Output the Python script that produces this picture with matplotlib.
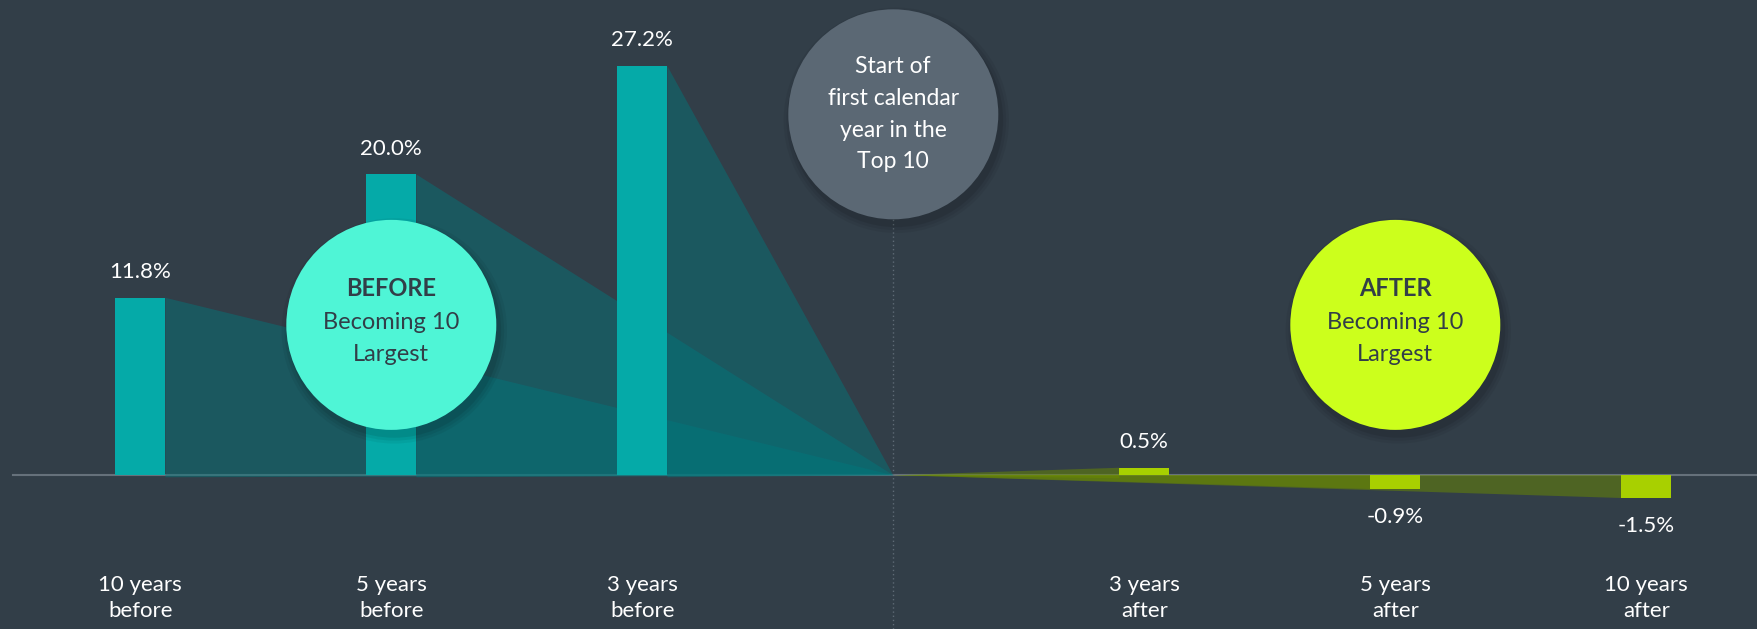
import numpy as np
import matplotlib
matplotlib.use("Agg")
import matplotlib.pyplot as plt
from matplotlib.patches import Ellipse, Polygon

# ---- data ----
before_labels = ["10 years\nbefore", "5 years\nbefore", "3 years\nbefore"]
before_values = [11.8, 20.0, 27.2]
after_labels = ["3 years\nafter", "5 years\nafter", "10 years\nafter"]
after_values = [0.5, -0.9, -1.5]
center_label = "Start of\nfirst calendar\nyear in the\nTop 10"
before_circle = ["BEFORE", "Becoming 10\nLargest"]
after_circle = ["AFTER", "Becoming 10\nLargest"]

BG = "#323e48"
TEAL = "#05aaa8"
FAN_TEAL = "#00787d"
LIME = "#a8d000"
FAN_LIME = "#6a8a00"
GRAY = "#5b6874"
FONT = ["Lato", "DejaVu Sans"]

W, H = 1758, 629
fig = plt.figure(figsize=(W / 100, H / 100), dpi=100)
fig.patch.set_facecolor(BG)
ax = fig.add_axes([0, 0, 1, 1])
ax.set_facecolor(BG)
ax.axis("off")

n_b = len(before_values)
xb = np.arange(n_b)
x0 = n_b  # center slot
xa = np.arange(n_b + 1, n_b + 1 + len(after_values))

ax.set_xlim(-0.559, 6.445)
ax.set_ylim(-10.22, 31.60)

# pixel helpers
px_x = (ax.transData.transform((1, 0))[0] - ax.transData.transform((0, 0))[0])
px_y = (ax.transData.transform((0, 1))[1] - ax.transData.transform((0, 0))[1])

bw = 0.2

# baseline
ax.axhline(0, xmin=13 / W, xmax=1, color="#66717b", lw=1.5, zorder=1)

# fans (before)
for x, v in zip(xb, before_values):
    poly = Polygon([(x + bw / 2, v), (x0, 0), (x + bw / 2, -2 / px_y)],
                   closed=True, facecolor=FAN_TEAL, alpha=0.45, lw=0, zorder=2)
    ax.add_patch(poly)
# fans (after)
for x, v in zip(xa, after_values):
    if v >= 0:
        pts = [(x0, 0), (x - bw / 2, v), (x - bw / 2, -3 / px_y)]
    else:
        pts = [(x0, 0), (x - bw / 2, 0), (x - bw / 2, v)]
    ax.add_patch(Polygon(pts, closed=True, facecolor=FAN_LIME, alpha=0.5, lw=0, zorder=2))

# bars
ax.bar(xb, before_values, width=bw, color=TEAL, zorder=3)
ax.bar(xa, after_values, width=bw, color=LIME, zorder=3)

# vertical dotted line
ax.plot([x0, x0], [-10.22, 24.0 - 105 / px_y], color="#5e6a75", lw=1,
        linestyle=(0, (1, 2)), zorder=1)

# value labels
for x, v in zip(list(xb) + list(xa), before_values + after_values):
    off = 18.5 if v >= 0 else -20
    ax.annotate(f"{v:.1f}%", (x, v), xytext=(0, off), textcoords="offset points",
                ha="center", va="center", color="white", fontsize=16, family=FONT,
                zorder=6)

# category labels
for x, lab in zip(list(xb) + list(xa), before_labels + after_labels):
    ax.text(x, (475.3 - 598) / px_y, lab, ha="center", va="center",
            color="white", fontsize=16, family=FONT, linespacing=1.35, zorder=6)


def circle(cx, cy, r_px, color, z):
    # soft shadow
    for k, a in [(10, 0.05), (7, 0.06), (4, 0.08)]:
        ax.add_patch(Ellipse((cx + 3 / px_x, cy - 6 / px_y), 2 * (r_px + k) / px_x * 0.98,
                             2 * (r_px + k) / px_y * 0.98, facecolor="black",
                             alpha=a, lw=0, zorder=z - 0.5))
    ax.add_patch(Ellipse((cx, cy), 2 * r_px / px_x, 2 * r_px / px_y,
                         facecolor=color, lw=0, zorder=z))


# center circle
cy_c = 24.0
circle(x0, cy_c, 105, GRAY, 7)
ax.text(x0, cy_c, center_label, ha="center", va="center", color="white",
        fontsize=16.5, family=FONT, linespacing=1.62, zorder=8)

# before / after circles
for cx, col, lines in [(xb[1], "#4ff5d6", before_circle), (xa[1], "#ccff1c", after_circle)]:
    cy = 10.0
    circle(cx, cy, 105, col, 7)
    ax.text(cx, cy + 36 / px_y, lines[0], ha="center", va="center", color=BG,
            fontsize=17, fontweight="bold", family=FONT, zorder=8)
    ax.text(cx, cy - 14 / px_y, lines[1], ha="center", va="center", color=BG,
            fontsize=17, family=FONT, linespacing=1.65, zorder=8)

fig.savefig("out.png", dpi=100, facecolor=BG)
